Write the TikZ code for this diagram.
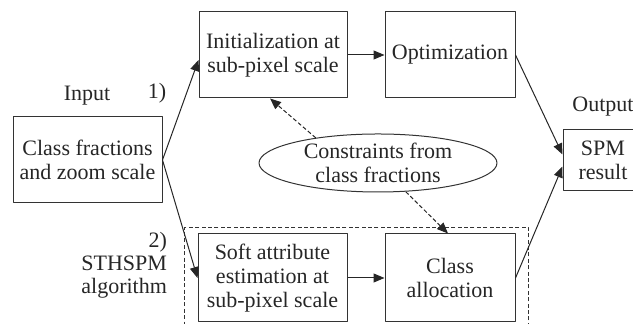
\documentclass[tikz,border=0pt]{standalone}
\usepackage{fontspec}
\setmainfont{Liberation Serif}
\usetikzlibrary{arrows.meta, calc, fit, shapes.geometric}

\begin{document}
\begin{tikzpicture}[x=0.5pt, y=-0.5pt, line join=round,
    >={Triangle[length=5.5pt,width=4.5pt]},
    txt/.style={font=\fontsize{11}{12}\selectfont, align=center, text=black!85},
    box/.style={txt, draw=black!80, line width=0.5pt, inner sep=0pt},
    cons/.style={txt, ellipse, draw=black!80, line width=0.5pt, inner sep=0pt,
        minimum width=119pt, minimum height=29pt},
    arr/.style={->, draw=black!85, line width=0.5pt},
    darr/.style={arr, dash pattern=on 2pt off 1.2pt}]
    \useasboundingbox (0,0) rectangle (633,324);

    % upper path
    \node[box, minimum width=74.5pt, minimum height=43pt] (input) at (87.5,160) {Class fractions\\and zoom scale};
    \node[box, minimum width=74pt, minimum height=43pt] (init) at (273,55) {Initialization at\\sub-pixel scale};
    \node[box, minimum width=65pt, minimum height=43pt] (opt) at (450,55) {Optimization};
    \node[box, minimum width=40pt, minimum height=30.5pt] (spm) at (603,160.5) {SPM\\result};
    \node[cons] (constr) at (378,163) {Constraints from\\class fractions};

    % lower path
    \node[box, minimum width=74.5pt, minimum height=44pt] (soft) at (272.5,278) {Soft attribute\\estimation at\\sub-pixel scale};
    \node[box, minimum width=65pt, minimum height=44pt] (alloc) at (450,278) {Class\\allocation};
    \node[draw=black!80, line width=0.5pt, dash pattern=on 2pt off 1.2pt,
        fit=(soft)(alloc), inner xsep=6.5pt, inner ysep=3pt] (sthspm) {};

    % labels
    \node[txt] (inlbl) at (87,96) {Input};
    \node[txt] (outlbl) at (603,107) {Output};
    \node[txt] (one) at (157,93) {1)};
    \node[txt, align=right, anchor=east, font=\fontsize{11}{11.5}\selectfont] (two) at (174,265) {2)\\STHSPM\\algorithm};

    % connectors
    \draw[arr] (input.east) -- ($(init.west)+(0,5)$);
    \draw[arr] (input.east) -- (soft.west);
    \draw[arr] (init) -- (opt);
    \draw[arr] (soft) -- (alloc);
    \draw[arr] (opt.east) -- ($(spm.west)+(0,-6)$);
    \draw[arr] (alloc.east) -- ($(spm.west)+(0,6)$);
    \draw[darr] (constr.158) -- ($(init.south)+(-3,0)$);
    \draw[darr] (constr.-46) -- ($(alloc.north)+(-2,0)$);
\end{tikzpicture}
\end{document}
